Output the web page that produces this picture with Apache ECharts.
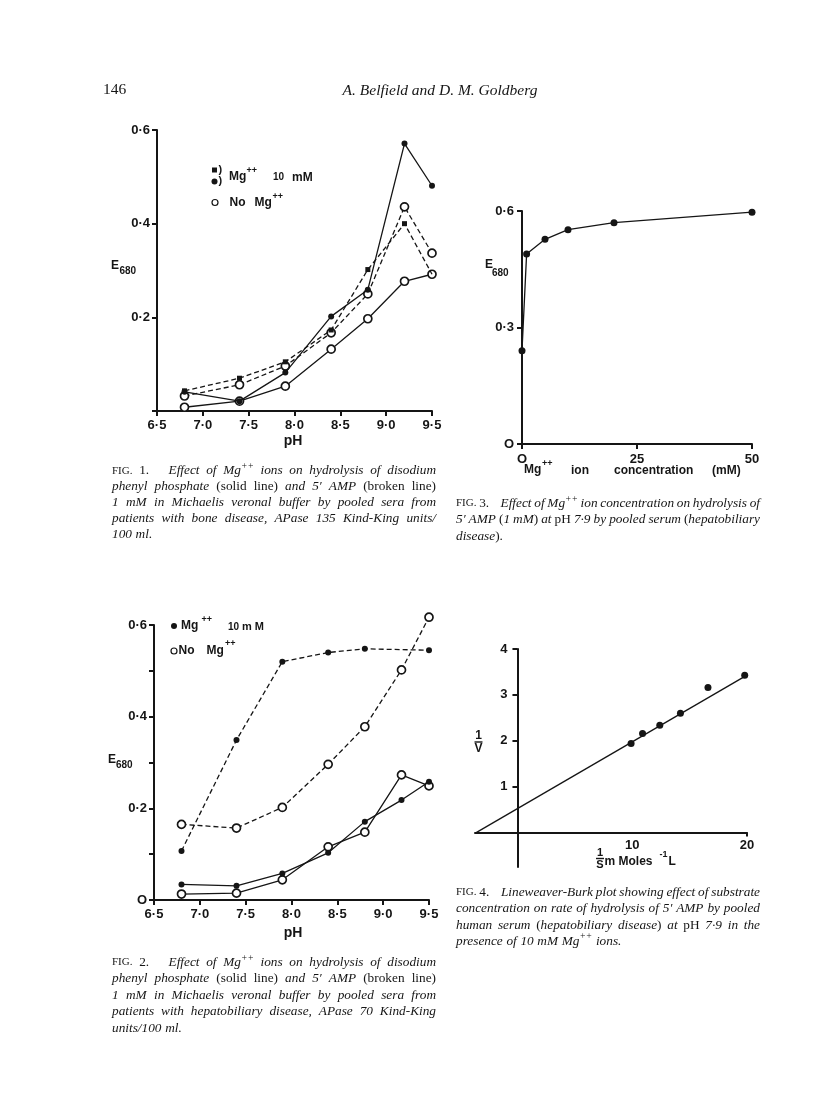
<!DOCTYPE html>
<html><head><meta charset="utf-8">
<script src="https://cdn.jsdelivr.net/npm/echarts@6/dist/echarts.min.js"></script>
<style>html,body{margin:0;padding:0;background:#fff}#c{width:816px;height:1118px}</style>
</head><body><div id="c"></div>
<script>
// ---------------- DATA ----------------
// Fig. 1 (bone disease)
const fig1_pH = [6.8, 7.4, 7.9, 8.4, 8.8, 9.2, 9.5];
const fig1_phenylMg   = [0.041, 0.021, 0.082, 0.202, 0.259, 0.571, 0.481]; // solid, filled
const fig1_phenylNoMg = [0.008, 0.021, 0.053, 0.132, 0.197, 0.277, 0.292]; // solid, open
const fig1_ampMg      = [0.043, 0.070, 0.105, 0.173, 0.302, 0.400, 0.292]; // broken, squares
const fig1_ampNoMg    = [0.032, 0.056, 0.096, 0.167, 0.250, 0.436, 0.337]; // broken, open
const fig1_xTicks = [6.5, 7.0, 7.5, 8.0, 8.5, 9.0, 9.5];
const fig1_yTicks = [0.2, 0.4, 0.6];

// Fig. 2 (hepatobiliary disease)
const fig2_pH = [6.8, 7.4, 7.9, 8.4, 8.8, 9.2, 9.5];
const fig2_ampMg_pH   = [6.8, 7.4, 7.9, 8.4, 8.8, 9.5];
const fig2_ampMg      = [0.107, 0.349, 0.520, 0.540, 0.548, 0.545];        // broken, filled
const fig2_ampNoMg    = [0.165, 0.157, 0.202, 0.296, 0.378, 0.502, 0.617]; // broken, open
const fig2_phenylMg   = [0.034, 0.031, 0.058, 0.103, 0.171, 0.218, 0.258]; // solid, filled
const fig2_phenylNoMg = [0.013, 0.015, 0.044, 0.116, 0.148, 0.273, 0.249]; // solid, open
const fig2_yLabelled = [0.2, 0.4, 0.6];

// Fig. 3 (Mg++ concentration)
const fig3_conc = [0, 1, 5, 10, 20, 50];
const fig3_E    = [0.240, 0.489, 0.527, 0.552, 0.570, 0.597];

// Fig. 4 (Lineweaver-Burk)
const fig4_invS = [9.9, 10.9, 12.4, 14.2, 16.6, 19.8];
const fig4_invV = [1.94, 2.16, 2.34, 2.60, 3.16, 3.43];
const fig4_lineX = [-3.6, 20.0];
const fig4_lineY = [0.0, 3.43];
const fig4_xRange = [-3.7, 20];
const fig4_yRange = [-0.75, 4];
const fig4_xTicks = [10, 20];
const fig4_yTicks = [1, 2, 3, 4];

// ---------------- STYLE HELPERS ----------------
const FG = '#151515';
const SANS = '"Liberation Sans", Arial, sans-serif';
const SERIF = '"Liberation Serif", "Times New Roman", serif';
const dot = v => (Math.round(v * 10) / 10).toFixed(1).replace('.', '\u00B7');

function axisBase(extra) {
  const base = {
    type: 'value',
    axisLine: { show: true, onZero: true, lineStyle: { color: FG, width: 2 } },
    axisTick: { show: true, length: 5, lineStyle: { color: FG, width: 2 } },
    axisLabel: { color: FG, fontFamily: SANS, fontWeight: 'bold', fontSize: 13, margin: 8 },
    splitLine: { show: false }
  };
  for (const k in extra) {
    if (typeof extra[k] === 'object' && !Array.isArray(extra[k]) && base[k]) base[k] = Object.assign({}, base[k], extra[k]);
    else base[k] = extra[k];
  }
  return base;
}
const pairs = (xs, ys) => xs.map((x, i) => [x, ys[i]]);
const filled = (size) => ({ symbol: 'circle', symbolSize: size, itemStyle: { color: FG, opacity: 1 } });
const open = (size) => ({ symbol: 'circle', symbolSize: size, itemStyle: { color: '#fff', borderColor: FG, borderWidth: 1.7, opacity: 1 } });
function lineSeries(grid, data, marker, dashed, z) {
  return Object.assign({
    type: 'line', xAxisIndex: grid, yAxisIndex: grid, data, clip: false, z,
    showSymbol: true, silent: true,
    lineStyle: { color: FG, width: 1.3, type: dashed ? [5, 3] : 'solid' }
  }, marker);
}

// ---------------- GRAPHICS (text) ----------------
const G = [];
function txt(x, y, text, font, align, vAlign) {
  align = align || 'left'; vAlign = vAlign || 'middle';
  G.push({ type: 'text', x, y, silent: true, z: 100,
    style: { text, font, fill: FG, textAlign: align, textVerticalAlign: vAlign } });
}
const mctx = document.createElement('canvas').getContext('2d');
const measure = (t, f) => { mctx.font = f; return mctx.measureText(t).width; };

const CAP = 13.3;
const CF = {
  i: `italic ${CAP}px ${SERIF}`,
  r: `${CAP}px ${SERIF}`,
  sc: `11px ${SERIF}`,
  isup: `italic 9.5px ${SERIF}`,
  rsup: `9.5px ${SERIF}`
};
function parseWord(w) {
  if (w === '|') return { w: 6, segs: [] };
  const segs = w.split('\u00A6').map(s => {
    let sup = false, kind = 'i';
    if (s[0] === '^') { sup = true; s = s.slice(1); }
    if (s[0] === '~') { kind = 'r'; s = s.slice(1); }
    else if (s[0] === '!') { kind = 'sc'; s = s.slice(1); }
    const key = sup ? (kind === 'r' ? 'rsup' : 'isup') : kind;
    return { t: s, f: CF[key], dy: sup ? -4.5 : 0, w: measure(s, CF[key]) };
  });
  return { w: segs.reduce((a, s) => a + s.w, 0), segs };
}
function caption(x0, x1, y0, lh, lines) {
  lines.forEach((line, li) => {
    const words = line.split(' ').map(parseWord);
    const total = words.reduce((a, w) => a + w.w, 0);
    const last = li === lines.length - 1;
    const gap = (last || words.length < 2) ? measure(' ', CF.i) * 1.1 : (x1 - x0 - total) / (words.length - 1);
    let x = x0; const y = y0 + li * lh;
    words.forEach(w => {
      let sx = x;
      w.segs.forEach(s => { txt(sx, y + s.dy, s.t, s.f); sx += s.w; });
      x += w.w + gap;
    });
  });
}

// header
txt(103, 90, '146', `15.5px ${SERIF}`);
txt(440, 91, 'A. Belfield and D. M. Goldberg', `italic 15.5px ${SERIF}`, 'center');

// axis titles
const B12 = `bold 12px ${SANS}`, B9 = `bold 9px ${SANS}`, B10 = `bold 10px ${SANS}`, B11 = `bold 11px ${SANS}`;
// Fig 1
txt(115, 266, 'E', B12, 'center'); txt(119.5, 271.5, '680', B10);
txt(293, 441, 'pH', `bold 14px ${SANS}`, 'center');
// legend fig1
G.push({ type: 'rect', silent: true, shape: { x: 212, y: 167.5, width: 5, height: 5 }, style: { fill: FG } });
G.push({ type: 'circle', silent: true, shape: { cx: 214.5, cy: 181.5, r: 3 }, style: { fill: FG } });
txt(218.5, 170, ')', B11); txt(218.5, 181, ')', B11);
txt(229, 177, 'Mg', B12); txt(246.5, 170.5, '++', B9); txt(273, 177.5, '10', B10); txt(292, 177.5, 'mM', B12);
G.push({ type: 'circle', silent: true, shape: { cx: 215, cy: 202.5, r: 3 }, style: { fill: '#fff', stroke: FG, lineWidth: 1.2 } });
txt(229.5, 203, 'No', B12); txt(254.5, 203, 'Mg', B12); txt(272.5, 196.5, '++', B9);

// Fig 3
txt(489, 265, 'E', B12, 'center'); txt(492, 273.5, '680', B10);
txt(524, 470, 'Mg', B12); txt(542, 463.5, '++', B9);
txt(571, 471, 'ion', B12); txt(614, 471, 'concentration', B12); txt(712, 471, '(mM)', B12);

// Fig 2
txt(112, 759.5, 'E', B12, 'center'); txt(116, 765.5, '680', B10);
txt(293, 933, 'pH', `bold 14px ${SANS}`, 'center');
G.push({ type: 'circle', silent: true, shape: { cx: 174, cy: 626, r: 3 }, style: { fill: FG } });
txt(181, 625.5, 'Mg', B12); txt(201.5, 620, '++', B9); txt(228, 627, '10', B10); txt(242, 627, 'm M', B11);
G.push({ type: 'circle', silent: true, shape: { cx: 174, cy: 651, r: 3 }, style: { fill: '#fff', stroke: FG, lineWidth: 1.2 } });
txt(178.5, 650.5, 'No', B12); txt(206.5, 650.5, 'Mg', B12); txt(225, 643.5, '++', B9);

// Fig 4
txt(478.5, 736, '1', B12, 'center');
G.push({ type: 'line', silent: true, shape: { x1: 474.5, y1: 742, x2: 482.5, y2: 742 }, style: { stroke: FG, lineWidth: 1.4 } });
txt(478.5, 749, 'V', B12, 'center');
txt(600, 853, '1', B11, 'center');
G.push({ type: 'line', silent: true, shape: { x1: 596, y1: 858.5, x2: 604, y2: 858.5 }, style: { stroke: FG, lineWidth: 1.4 } });
txt(600, 864.5, 'S', B11, 'center');
txt(604.5, 862, 'm Moles', B12); txt(659.5, 855, '-1', B9); txt(668.5, 862, 'L', B12);

// captions
caption(112, 436, 471, 16, [
  '!FIG. ~1. | Effect of Mg\u00A6^++ ions on hydrolysis of disodium',
  'phenyl phosphate ~(solid ~line) and 5\u2032 AMP ~(broken ~line)',
  '1 mM in Michaelis veronal buffer by pooled sera from',
  'patients with bone disease, APase 135 Kind-King units/',
  '100 ml.'
]);
caption(456, 760, 503.5, 16.5, [
  '!FIG. ~3. | Effect of Mg\u00A6^++ ion concentration on hydrolysis of',
  '5\u2032 AMP ~(\u00A61 mM\u00A6~) at ~pH 7\u00B79 by pooled serum ~(\u00A6hepatobiliary',
  'disease\u00A6~).'
]);
caption(112, 436, 962.5, 16.4, [
  '!FIG. ~2. | Effect of Mg\u00A6^++ ions on hydrolysis of disodium',
  'phenyl phosphate ~(solid ~line) and 5\u2032 AMP ~(broken ~line)',
  '1 mM in Michaelis veronal buffer by pooled sera from',
  'patients with hepatobiliary disease, APase 70 Kind-King',
  'units/100 ml.'
]);
caption(456, 760, 892.5, 16.3, [
  '!FIG. ~4. | Lineweaver-Burk plot showing effect of substrate',
  'concentration on rate of hydrolysis of 5\u2032 AMP by pooled',
  'human serum ~(\u00A6hepatobiliary disease\u00A6~) at ~pH 7\u00B79 in the',
  'presence of 10 mM Mg\u00A6^++ ions.'
]);

// ---------------- CHART ----------------
const chart = echarts.init(document.getElementById('c'), null, { renderer: 'canvas' });
const fig1Ampmg = fig1_ampMg.map((v, i) => i === fig1_ampMg.length - 1 ? { value: [fig1_pH[i], v], symbol: 'none' } : [fig1_pH[i], v]);

const g4 = { left: 475, top: 649, width: 272, height: 218 };
// offsets that put fig 4 tick labels against the axes crossing at zero
const g4xOff = -((0 - fig4_yRange[0]) / (fig4_yRange[1] - fig4_yRange[0])) * g4.height;
const g4yOff = -((0 - fig4_xRange[0]) / (fig4_xRange[1] - fig4_xRange[0])) * g4.width;

const option = {
  backgroundColor: '#fff',
  animation: false,
  grid: [
    { left: 157, top: 130, width: 275, height: 281, outerBoundsMode: 'none' },
    { left: 522, top: 211, width: 230, height: 233, outerBoundsMode: 'none' },
    { left: 154, top: 625, width: 275, height: 275, outerBoundsMode: 'none' },
    Object.assign({ outerBoundsMode: 'none' }, g4)
  ],
  xAxis: [
    axisBase({ gridIndex: 0, position: 'bottom', min: fig1_xTicks[0], max: fig1_xTicks[fig1_xTicks.length - 1], interval: 0.5,
      axisLabel: { formatter: v => dot(v), margin: 8 } }),
    axisBase({ gridIndex: 1, position: 'bottom', min: 0, max: 50, interval: 25,
      axisLabel: { formatter: v => v === 0 ? 'O' : String(v), margin: 9 } }),
    axisBase({ gridIndex: 2, position: 'bottom', min: 6.5, max: 9.5, interval: 0.5,
      axisLabel: { formatter: v => dot(v), margin: 8 } }),
    axisBase({ gridIndex: 3, position: 'bottom', min: fig4_xRange[0], max: fig4_xRange[1],
      axisTick: { customValues: [fig4_xTicks[1]], length: 4 },
      axisLabel: { show: false } }),
    axisBase({ gridIndex: 3, position: 'bottom', offset: g4xOff, min: fig4_xRange[0], max: fig4_xRange[1],
      axisLine: { show: false, onZero: false }, axisTick: { show: false },
      axisLabel: { customValues: fig4_xTicks, margin: 6 } })
  ],
  yAxis: [
    axisBase({ gridIndex: 0, position: 'left', min: 0, max: 0.6, interval: 0.2,
      axisLabel: { formatter: v => fig1_yTicks.some(t => Math.abs(t - v) < 1e-6) ? dot(v) : '', margin: 7 } }),
    axisBase({ gridIndex: 1, position: 'left', min: 0, max: 0.6, interval: 0.3,
      axisLabel: { formatter: v => v === 0 ? 'O' : dot(v), margin: 8 } }),
    axisBase({ gridIndex: 2, position: 'left', min: 0, max: 0.6, interval: 0.1,
      axisLabel: { formatter: v => v === 0 ? 'O' : (fig2_yLabelled.some(t => Math.abs(t - v) < 1e-6) ? dot(v) : ''), margin: 7 } }),
    axisBase({ gridIndex: 3, position: 'left', min: fig4_yRange[0], max: fig4_yRange[1],
      axisTick: { customValues: fig4_yTicks },
      axisLabel: { show: false } }),
    axisBase({ gridIndex: 3, position: 'left', offset: g4yOff, min: fig4_yRange[0], max: fig4_yRange[1],
      axisLine: { show: false, onZero: false }, axisTick: { show: false },
      axisLabel: { customValues: fig4_yTicks, margin: 10 } })
  ],
  series: [
    // Fig 1
    lineSeries(0, pairs(fig1_pH, fig1_ampNoMg), open(8), true, 2),
    lineSeries(0, pairs(fig1_pH, fig1_phenylNoMg), open(8), false, 2),
    lineSeries(0, fig1Ampmg, { symbol: 'rect', symbolSize: 5, itemStyle: { color: FG, opacity: 1 } }, true, 3),
    lineSeries(0, pairs(fig1_pH, fig1_phenylMg), filled(6), false, 4),
    // Fig 3
    lineSeries(1, pairs(fig3_conc, fig3_E), filled(7), false, 3),
    // Fig 2
    lineSeries(2, pairs(fig2_pH, fig2_ampNoMg), open(8), true, 2),
    lineSeries(2, pairs(fig2_pH, fig2_phenylNoMg), open(8), false, 2),
    lineSeries(2, pairs(fig2_ampMg_pH, fig2_ampMg), filled(6), true, 3),
    lineSeries(2, pairs(fig2_pH, fig2_phenylMg), filled(6), false, 3),
    // Fig 4
    lineSeries(3, pairs(fig4_lineX, fig4_lineY), { symbol: 'none' }, false, 2),
    { type: 'scatter', xAxisIndex: 3, yAxisIndex: 3, data: pairs(fig4_invS, fig4_invV),
      symbol: 'circle', symbolSize: 7, itemStyle: { color: FG, opacity: 1 }, silent: true, z: 3 }
  ],
  graphic: { elements: G }
};
chart.setOption(option);
</script>
</body></html>
